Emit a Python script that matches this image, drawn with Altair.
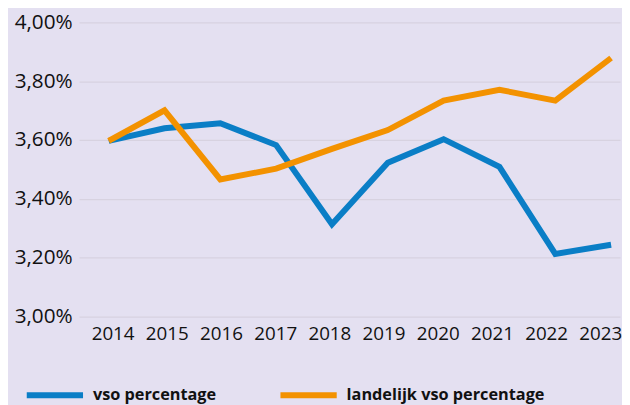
import altair as alt
import pandas as pd

years = [2014, 2015, 2016, 2017, 2018, 2019, 2020, 2021, 2022, 2023]
vso = [3.597, 3.640, 3.657, 3.583, 3.314, 3.523, 3.603, 3.509, 3.213, 3.244]
landelijk = [3.597, 3.701, 3.466, 3.503, 3.570, 3.634, 3.734, 3.771, 3.734, 3.879]
series_names = ["vso percentage", "landelijk vso percentage"]
series_colors = ["#0A7EC6", "#F39200"]
y_ticks = [3.0, 3.2, 3.4, 3.6, 3.8, 4.0]

rows = []
for y, v in zip(years, vso):
    rows.append({"year": y, "value": v, "series": series_names[0]})
for y, v in zip(years, landelijk):
    rows.append({"year": y, "value": v, "series": series_names[1]})
df = pd.DataFrame(rows)
df_years = pd.DataFrame({"year": years})

FONT = "Open Sans"

lines = alt.Chart(df).mark_line(strokeWidth=6, strokeCap="butt", strokeJoin="miter").encode(
    x=alt.X("year:Q", scale=alt.Scale(domain=[2013.47, 2023.16], nice=False, zero=False), axis=None),
    y=alt.Y(
        "value:Q",
        scale=alt.Scale(domain=[3.0, 4.0], nice=False, zero=False),
        axis=alt.Axis(
            values=y_ticks,
            labelExpr="replace(format(datum.value, '.2f'), '.', ',') + '%'",
            title=None,
            domain=False,
            ticks=False,
            grid=True,
            gridColor="#D7D2E0",
            gridWidth=1.2,
            labelFont=FONT,
            labelFontSize=21,
            labelColor="#111111",
            labelPadding=7,
        ),
    ),
    color=alt.Color(
        "series:N",
        scale=alt.Scale(domain=series_names, range=series_colors),
        legend=alt.Legend(
            title=None,
            orient="none",
            direction="horizontal",
            legendX=-56,
            legendY=346,
            padding=0,
            symbolType="stroke",
            symbolSize=3249,
            symbolStrokeWidth=6,
            labelFont=FONT,
            labelFontSize=16.5,
            labelFontWeight="bold",
            labelColor="#111111",
            labelOffset=7,
            columnPadding=52,
            labelLimit=400,
        ),
    ),
)

xaxis = alt.Chart(df_years).mark_point(opacity=0).encode(
    x=alt.X(
        "year:Q",
        scale=alt.Scale(domain=[2013.381, 2023.364], nice=False, zero=False),
        axis=alt.Axis(
            orient="bottom",
            values=years,
            format="d",
            title=None,
            domain=False,
            ticks=False,
            grid=False,
            labelFont=FONT,
            labelFontSize=19,
            labelColor="#111111",
            labelPadding=8,
        ),
    ),
)

chart = alt.layer(lines, xaxis).resolve_scale(x="independent").properties(
    width=548,
    height=298,
    autosize=alt.AutoSizeParams(type="none"),
    padding={"left": 72, "top": 12, "right": 2, "bottom": 87},
    background="#E4E0F1",
).configure_view(stroke=None)

chart.save("out.html", embed_options={"renderer": "svg", "actions": False})
